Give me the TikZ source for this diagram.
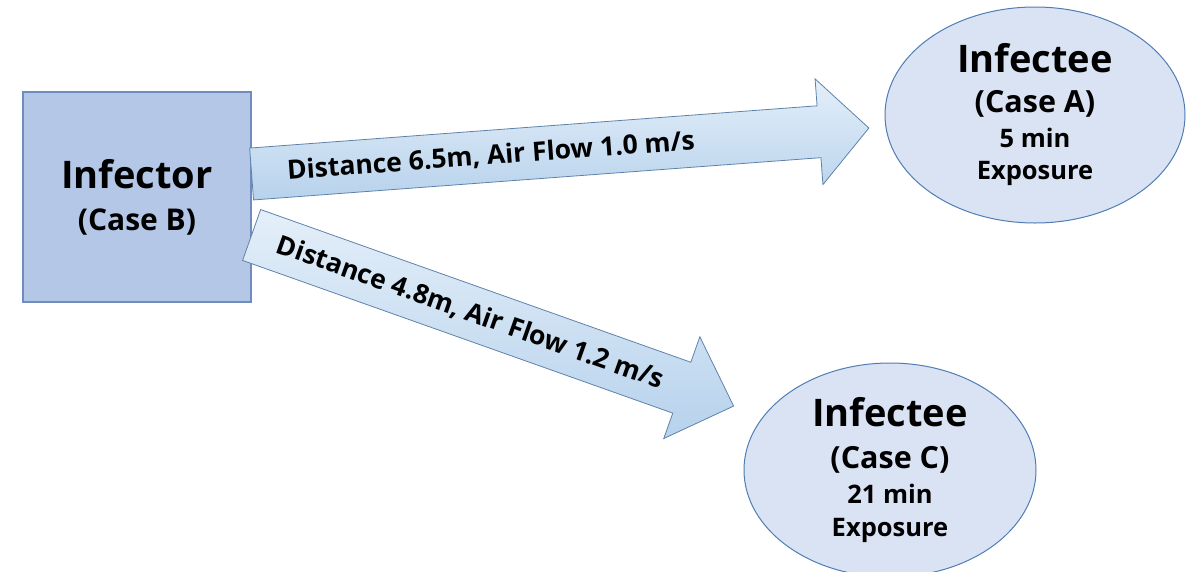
\documentclass[tikz,border=0pt]{standalone}
\usepackage{fontspec}
\setmainfont{Open Sans}
\usetikzlibrary{shapes.geometric,calc}
\definecolor{boxfill}{RGB}{180,199,231}
\definecolor{boxline}{RGB}{110,140,190}
\definecolor{ellfill}{RGB}{218,227,243}
\definecolor{ellline}{RGB}{80,125,180}
\definecolor{arrlight}{RGB}{228,239,249}
\definecolor{arrdark}{RGB}{183,210,236}
\definecolor{arrline}{RGB}{95,130,170}
\newcommand{\tline}[2]{{\fontsize{#1}{0}\selectfont #2}}
\newcommand{\tightfont}{\bfseries\fontsize{22}{0}\selectfont\lineskiplimit=-200pt\relax\lineskip=0pt\relax}
\begin{document}
\begin{tikzpicture}[x=1pt,y=-1pt,
 tight/.style={font=\tightfont},
 casebox/.style={tight, draw=boxline, line width=1.2pt, fill=boxfill, minimum width=228pt, minimum height=210pt, inner sep=0pt, align=center},
 caseell/.style={tight, ellipse, draw=ellline, line width=1pt, fill=ellfill, inner sep=0pt, align=center},
 flow/.style={draw=arrline, line width=0.8pt, top color=arrlight, bottom color=arrdark, line join=miter},
 flowtext/.style={font=\bfseries\fontsize{26.5}{30}\selectfont, inner sep=0pt}
]
\useasboundingbox (0,0) rectangle (1200,571);

\node[casebox] (B) at (137,197)
  {\tline{38}{Infector}\\[42pt]\tline{30}{(Case B)}};

\node[caseell, minimum width=300pt, minimum height=216pt] (A) at (1035,115)
  {\tline{38}{Infectee}\\[40pt]\tline{30.5}{(Case A)}\\[35pt]\tline{25.5}{5 min}\\[32pt]\tline{25.5}{Exposure}};

\node[caseell, minimum width=292pt, minimum height=214pt] (C) at (890,470)
  {\tline{38}{Infectee}\\[42pt]\tline{30.5}{(Case C)}\\[35pt]\tline{25.5}{21 min}\\[33pt]\tline{25.5}{Exposure}};

\begin{scope}[shift={($(B.east)+(0,-23)$)}, rotate=4.26]
  \draw[flow] (0,-26) -- (569,-26) -- (569,-53) -- (619,0) -- (569,53) -- (569,26) -- (0,26) -- cycle;
  \node[flowtext, rotate=4.26] (t1) at (240,0) {Distance 6.5m, Air Flow 1.0 m/s};
\end{scope}

\begin{scope}[shift={($(B.east)+(0,38)$)}, rotate=-19.54]
  \draw[flow] (0,-27) -- (456.5,-27) -- (456.5,-54) -- (511.5,0) -- (456.5,54) -- (456.5,27) -- (0,27) -- cycle;
  \node[flowtext, rotate=-19.54] (t2) at (232,0) {Distance 4.8m, Air Flow 1.2 m/s};
\end{scope}
\end{tikzpicture}
\end{document}
